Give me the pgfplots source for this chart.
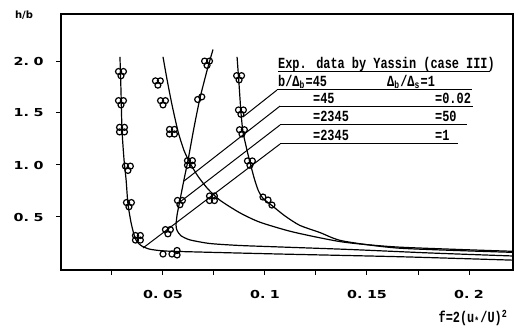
\documentclass[border=0pt]{standalone}
\usepackage{fontspec}
\usepackage{graphicx}
\usepackage{pgfplots}
\pgfplotsset{compat=1.18}
\newfontfamily\tickfont{DejaVu Sans}
\newfontfamily\legfont{Liberation Mono}
% wide bold tick numbers, e.g. "0. 05"
\newcommand\tk[2]{\scalebox{1.3}[1]{\fontsize{11}{12}\tickfont\bfseries #1.\hspace{3.5pt}#2}}
% tall typewriter text for the legend block
\newcommand\legtxt[1]{\scalebox{1}[1.3]{\fontsize{11.9}{13}\legfont\bfseries #1}}
\newcommand\sub[1]{\makebox[6pt][l]{\raisebox{-1.5pt}{\fontsize{8}{8}\selectfont #1}}}
\begin{document}
\begin{tikzpicture}
\begin{axis}[
  width=452pt, height=256pt, scale only axis,
  xmin=0, xmax=0.22157, ymin=-0.0096, ymax=2.452,
  axis line style={line width=1.3pt},
  tick align=outside, tick pos=left,
  major tick length=5pt,
  tick style={line width=1pt, black},
  xtick={0.025,0.05,0.075,0.1,0.125,0.15,0.175,0.2},
  xticklabels={,\tk{0}{05},,\tk{0}{1},,\tk{0}{15},,\tk{0}{2}},
  ytick={0.5,1,1.5,2},
  yticklabels={\tk{0}{5},\tk{1}{0},\tk{1}{5},\tk{2}{0}},
  xticklabel style={yshift=-12pt},
  yticklabel style={xshift=-9pt},
  every axis plot/.append style={line width=1.2pt, black},
]
% computed curves
\addplot[smooth, tension=0.4] coordinates {
 (0.0289,2.04) (0.0294,1.72) (0.0299,1.34) (0.0309,1.05) (0.0319,0.86)
 (0.0328,0.63) (0.0343,0.45) (0.0358,0.33) (0.0373,0.26) (0.0397,0.22)
 (0.0436,0.19) (0.0510,0.173) (0.0681,0.163) (0.1070,0.144) (0.1660,0.118)
 (0.2216,0.085)};
\addplot[smooth, tension=0.4] coordinates {
 (0.0500,2.04) (0.0520,1.82) (0.0544,1.58) (0.0574,1.32) (0.0603,1.14)
 (0.0632,1.02) (0.0672,0.89) (0.0720,0.77) (0.0780,0.66) (0.0877,0.54)
 (0.0975,0.45) (0.1137,0.356) (0.1380,0.26) (0.1660,0.21) (0.2216,0.17)};
\addplot[smooth, tension=0.4] coordinates {
 (0.0745,2.11) (0.0716,1.91) (0.0681,1.64) (0.0652,1.36) (0.0623,1.05)
 (0.0603,0.86) (0.0583,0.66) (0.0569,0.52) (0.0564,0.42) (0.0569,0.37)
 (0.0588,0.32) (0.0632,0.28) (0.0730,0.245) (0.0877,0.226) (0.1070,0.212)
 (0.1417,0.1875) (0.1810,0.154) (0.2216,0.125)};
\addplot[smooth, tension=0.4] coordinates {
 (0.0863,2.04) (0.0873,1.77) (0.0882,1.51) (0.0892,1.32) (0.0912,1.14)
 (0.0926,1.03) (0.0946,0.88) (0.0966,0.76) (0.0990,0.68) (0.1034,0.61)
 (0.1098,0.51) (0.1170,0.42) (0.1270,0.35) (0.1380,0.27) (0.1660,0.20)
 (0.2216,0.16)};
% leaders from the legend rows
\addplot[line width=1pt] coordinates {(0.1059,1.721) (0.0892,1.462)};
\addplot[line width=1pt] coordinates {(0.1074,1.567) (0.0603,0.846)};
\addplot[line width=1pt] coordinates {(0.1074,1.385) (0.0583,0.644)};
\addplot[line width=1pt] coordinates {(0.1074,1.202) (0.0402,0.202)};
% measured points
\pgfplotsset{meas/.style={only marks, mark=o, mark size=3pt, mark options={line width=1.2pt}}}
\addplot[meas] coordinates {
 (0.0282,1.899) (0.0306,1.899) (0.0294,1.858)
 (0.0282,1.619) (0.0306,1.619) (0.0294,1.578)
 (0.0287,1.362) (0.0311,1.362) (0.0287,1.318) (0.0311,1.318)
 (0.0316,0.989) (0.0340,0.989) (0.0328,0.948)
 (0.0321,0.639) (0.0345,0.639) (0.0333,0.598)
 (0.0365,0.322) (0.0389,0.322) (0.0365,0.278) (0.0389,0.278)
 (0.0500,0.144) (0.0544,0.144) (0.0569,0.178) (0.0569,0.135)};
\addplot[meas] coordinates {
 (0.0463,1.809) (0.0487,1.809) (0.0475,1.768)
 (0.0488,1.619) (0.0512,1.619) (0.0500,1.578)
 (0.0532,1.342) (0.0556,1.342) (0.0532,1.298) (0.0556,1.298)
 (0.0620,1.042) (0.0644,1.042) (0.0620,0.998) (0.0644,0.998)
 (0.0728,0.702) (0.0752,0.702) (0.0728,0.658) (0.0752,0.658)};
\addplot[meas] coordinates {
 (0.0704,1.999) (0.0728,1.999) (0.0716,1.958)
 (0.0670,1.630) (0.0690,1.655)
 (0.0571,0.659) (0.0595,0.659) (0.0583,0.618)
 (0.0512,0.379) (0.0536,0.379) (0.0524,0.338)};
\addplot[meas] coordinates {
 (0.0861,1.859) (0.0885,1.859) (0.0873,1.818)
 (0.0870,1.529) (0.0894,1.529) (0.0882,1.488)
 (0.0875,1.339) (0.0899,1.339) (0.0887,1.298)
 (0.0914,1.039) (0.0938,1.039) (0.0926,0.998)
 (0.0990,0.692) (0.1015,0.663) (0.1034,0.615)};
\end{axis}
% legend block
\begin{scope}[every node/.style={inner sep=0pt, anchor=base west}]
\node at (217pt,201pt) {\legtxt{Exp. data by Yassin (case III)}};
\node at (217pt,183pt) {\legtxt{b/Δ\sub{b}=45}};
\node at (326pt,183pt) {\legtxt{Δ\sub{b}/Δ\sub{s}=1}};
\node at (252pt,166pt) {\legtxt{=45}};
\node at (374pt,166pt) {\legtxt{=0.02}};
\node at (252pt,148pt) {\legtxt{=2345}};
\node at (374pt,148pt) {\legtxt{=50}};
\node at (252pt,129pt) {\legtxt{=2345}};
\node at (374pt,129pt) {\legtxt{=1}};
\end{scope}
\draw[line width=1pt] (217pt,198pt) -- (429pt,198pt);
\draw[line width=1pt] (216pt,180pt) -- (411pt,180pt);
\draw[line width=1pt] (219pt,163pt) -- (412pt,163pt);
\draw[line width=1pt] (219pt,145pt) -- (406pt,145pt);
\draw[line width=1pt] (219pt,126pt) -- (397pt,126pt);
% axis titles
\node[inner sep=0pt] at (-37pt,255pt) {\fontsize{10}{12}\tickfont\bfseries h/b};
\node[inner sep=0pt] at (412pt,-48pt) {\legtxt{f=2(u\sub{*}/U)\textsuperscript{2}}};
\pgfresetboundingbox
\path[use as bounding box] (-61pt,-61pt) rectangle (454pt,270pt);
\end{tikzpicture}
\end{document}
